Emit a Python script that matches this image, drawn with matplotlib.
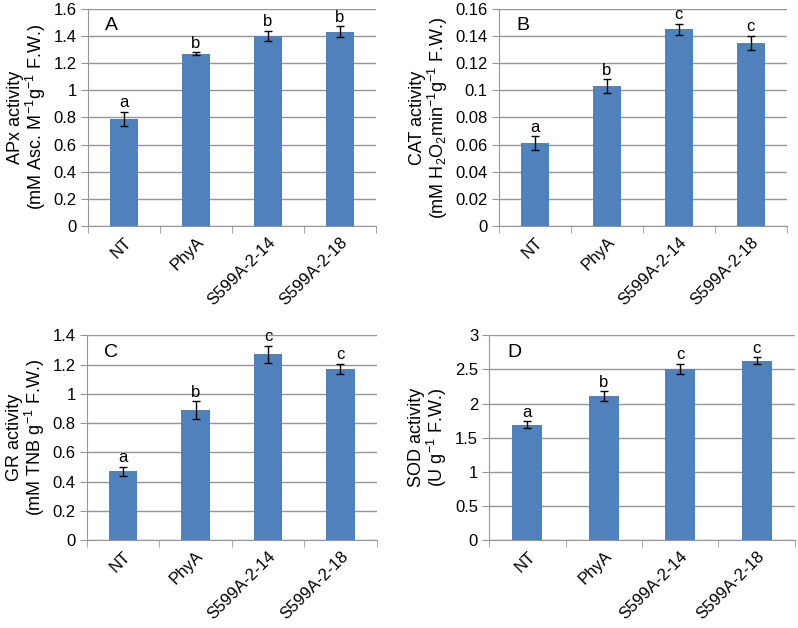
import matplotlib
matplotlib.use("Agg")
import numpy as np
from matplotlib import pyplot as plt
from matplotlib.ticker import FuncFormatter, MultipleLocator

plt.rcParams['font.family'] = ['Liberation Sans', 'DejaVu Sans']
plt.rcParams['mathtext.fontset'] = 'custom'
plt.rcParams['mathtext.rm'] = 'Liberation Sans'
plt.rcParams['mathtext.it'] = 'Liberation Sans:italic'
plt.rcParams['mathtext.default'] = 'regular'

lines = ['NT', 'PhyA', 'S599A-2-14', 'S599A-2-18']

apx = [0.79, 1.27, 1.40, 1.43]
apx_err = [0.05, 0.01, 0.04, 0.04]
apx_sig = ['a', 'b', 'b', 'b']

cat = [0.061, 0.103, 0.145, 0.135]
cat_err = [0.005, 0.005, 0.004, 0.005]
cat_sig = ['a', 'b', 'c', 'c']

gr = [0.47, 0.89, 1.27, 1.17]
gr_err = [0.03, 0.06, 0.06, 0.035]
gr_sig = ['a', 'b', 'c', 'c']

sod = [1.69, 2.11, 2.51, 2.63]
sod_err = [0.05, 0.07, 0.07, 0.05]
sod_sig = ['a', 'b', 'c', 'c']

panels = [
    ('A', apx, apx_err, apx_sig, 1.6, 0.2,
     'APx activity\n(mM Asc. M$^{-1}$g$^{-1}$ F.W.)', [0.110, 0.640, 0.361, 0.346]),
    ('B', cat, cat_err, cat_sig, 0.16, 0.02,
     'CAT activity\n(mM H$_2$O$_2$min$^{-1}$g$^{-1}$ F.W.)', [0.625, 0.640, 0.361, 0.346]),
    ('C', gr, gr_err, gr_sig, 1.4, 0.2,
     'GR activity\n(mM TNB g$^{-1}$ F.W.)', [0.109, 0.140, 0.363, 0.326]),
    ('D', sod, sod_err, sod_sig, 3.0, 0.5,
     'SOD activity\n(U g$^{-1}$ F.W.)', [0.613, 0.140, 0.383, 0.326]),
]

fig = plt.figure(figsize=(7.98, 6.28), dpi=100)
grid_c = '#969696'

for tag, vals, errs, sig, ymax, step, ylab, rect in panels:
    ax = fig.add_axes(rect)
    x = np.arange(len(lines))
    ax.bar(x, vals, width=0.39, color='#4F81BD', zorder=3)
    ax.errorbar(x, vals, yerr=errs, fmt='none', ecolor='black', elinewidth=1,
                capsize=3, capthick=1, zorder=4)
    for xi, v, e, s in zip(x, vals, errs, sig):
        ax.text(xi, v + e + ymax * 0.008, s, ha='center', va='bottom', fontsize=12)
    ax.set_xlim(-0.5, len(lines) - 0.5)
    ax.set_ylim(0, ymax)
    ax.yaxis.set_major_locator(MultipleLocator(step))
    ax.yaxis.set_major_formatter(FuncFormatter(lambda v, p: '%g' % round(v, 4)))
    ax.grid(axis='y', color=grid_c, linewidth=1, zorder=0)
    for sp in ['top', 'right']:
        ax.spines[sp].set_visible(False)
    for sp in ['left', 'bottom']:
        ax.spines[sp].set_color(grid_c)
    ax.set_xticks(x)
    ax.set_xticklabels(lines, rotation=45, ha='right', rotation_mode='anchor', fontsize=12)
    ax.set_xticks(np.arange(len(lines) + 1) - 0.5, minor=True)
    ax.tick_params(axis='x', which='major', length=0, pad=6)
    ax.tick_params(axis='x', which='minor', length=5, color=grid_c, direction='out')
    ax.tick_params(axis='y', length=5, color=grid_c, labelsize=12, pad=3)
    ax.set_ylabel(ylab, fontsize=13, linespacing=1.0, labelpad=4)
    ax.text(0.06, 0.96, tag, transform=ax.transAxes, fontsize=14, va='top', ha='left')

fig.savefig('out.png', dpi=100)
